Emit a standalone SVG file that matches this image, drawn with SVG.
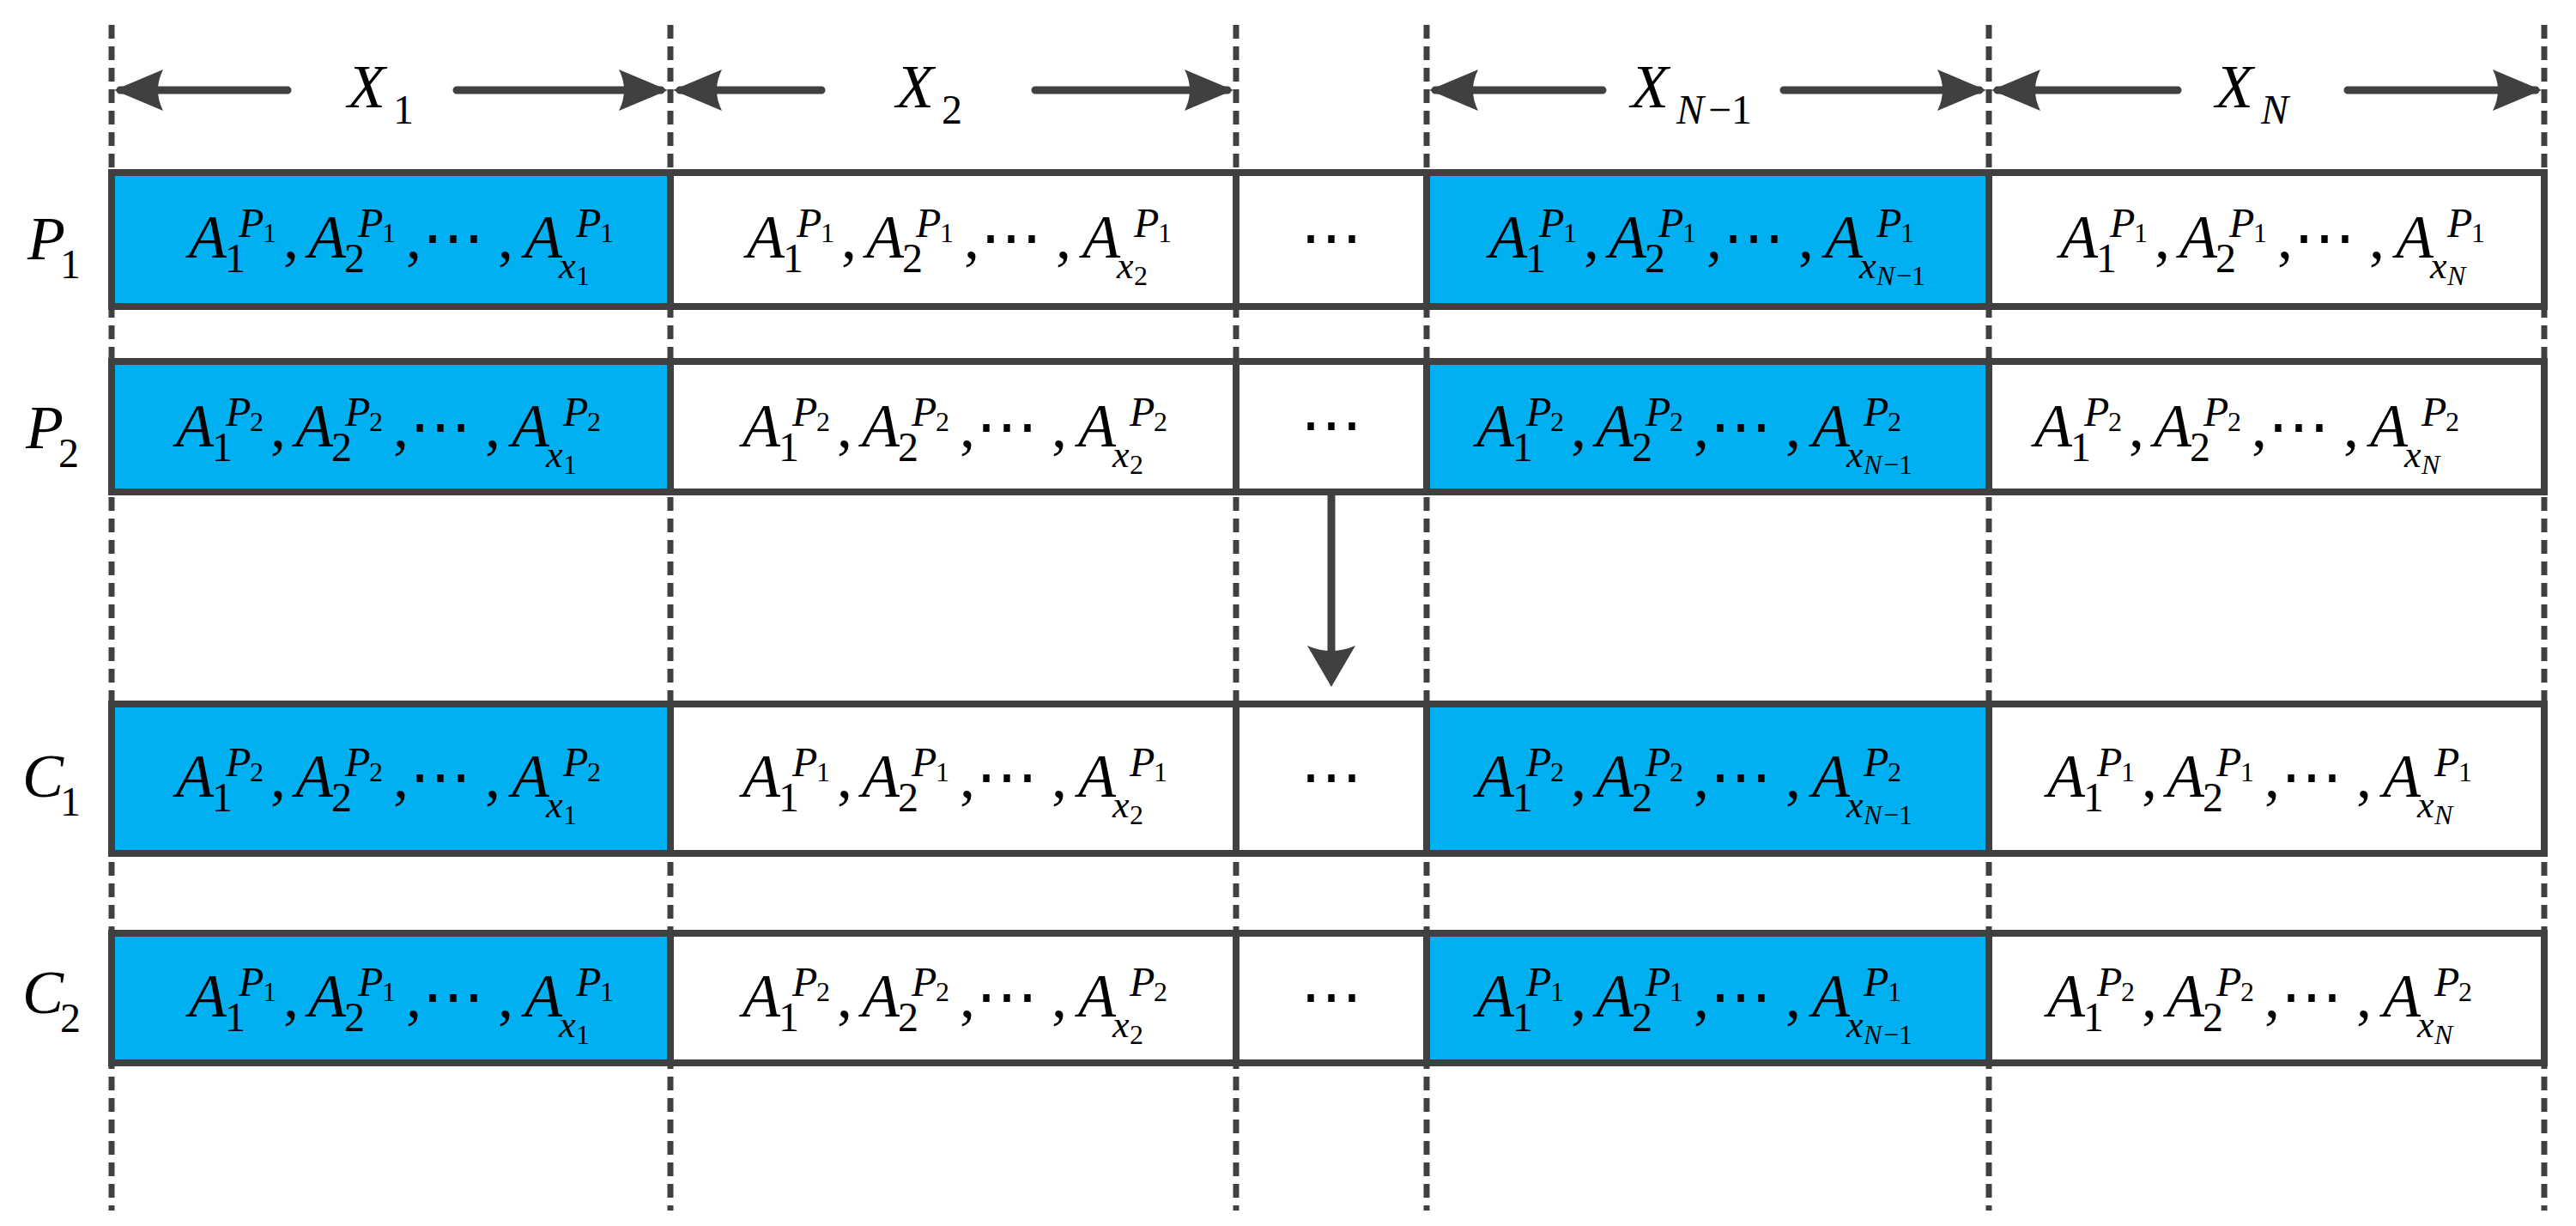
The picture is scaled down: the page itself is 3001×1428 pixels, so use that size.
<svg xmlns="http://www.w3.org/2000/svg" width="3001" height="1428" viewBox="0 0 3001 1428" font-family="'Liberation Serif', 'DejaVu Serif', serif">
<style>
.dash{stroke:#404040;stroke-width:7;stroke-dasharray:16 9;fill:none}
.cell{stroke:#404040;stroke-width:8}
.b{fill:#00B0F0}.w{fill:#fff}
.ln{stroke:#404040;stroke-width:9;fill:none;stroke-linecap:round}
.hd{fill:#404040}
text,tspan{font-family:'Liberation Serif','DejaVu Serif',serif}
text{fill:#000}
.m{font-size:72px}
.i{font-style:italic}
.s{font-size:48px}
.si{font-size:48px;font-style:italic}
.ss{font-size:32px}
.ssi{font-size:32px;font-style:italic}
.sx{font-size:44px;font-style:italic}
</style>
<g id="grid">
<path class="dash" d="M130 29V1410M781 29V1410M1440 29V1410M1662 29V1410M2317 29V1410M2964 29V1410"/>
</g>
<g id="headers">
<path class="ln" d="M140 105H335M532 105H770M792 105H957M1206 105H1430M1672 105H1867M2078 105H2306M2327 105H2537M2735 105H2954"/>
<path class="hd" d="M133 105L190 81Q178 105 190 129Z M778 105L721 81Q733 105 721 129Z M784 105L841 81Q829 105 841 129Z M1437 105L1380 81Q1392 105 1380 129Z M1665 105L1722 81Q1710 105 1722 129Z M2314 105L2257 81Q2269 105 2257 129Z M2320 105L2377 81Q2365 105 2377 129Z M2961 105L2904 81Q2916 105 2904 129Z"/>
<text class="m"><tspan class="i" x="405" y="125">X</tspan><tspan class="s" x="458" y="144">1</tspan></text>
<text class="m"><tspan class="i" x="1044" y="125">X</tspan><tspan class="s" x="1097" y="144">2</tspan></text>
<text class="m"><tspan class="i" x="1900" y="125">X</tspan><tspan class="si" x="1953" y="144">N</tspan><tspan class="s" x="1990" y="144">−1</tspan></text>
<text class="m"><tspan class="i" x="2581" y="125">X</tspan><tspan class="si" x="2634" y="144">N</tspan></text>
</g>
<g id="rows">
<rect class="cell b" x="130" y="201" width="651" height="156"/><rect class="cell w" x="781" y="201" width="659" height="156"/><rect class="cell w" x="1440" y="201" width="222" height="156"/><rect class="cell b" x="1662" y="201" width="655" height="156"/><rect class="cell w" x="2317" y="201" width="647" height="156"/>
<rect class="cell b" x="130" y="421" width="651" height="152"/><rect class="cell w" x="781" y="421" width="659" height="152"/><rect class="cell w" x="1440" y="421" width="222" height="152"/><rect class="cell b" x="1662" y="421" width="655" height="152"/><rect class="cell w" x="2317" y="421" width="647" height="152"/>
<rect class="cell b" x="130" y="820" width="651" height="174"/><rect class="cell w" x="781" y="820" width="659" height="174"/><rect class="cell w" x="1440" y="820" width="222" height="174"/><rect class="cell b" x="1662" y="820" width="655" height="174"/><rect class="cell w" x="2317" y="820" width="647" height="174"/>
<rect class="cell b" x="130" y="1087" width="651" height="151"/><rect class="cell w" x="781" y="1087" width="659" height="151"/><rect class="cell w" x="1440" y="1087" width="222" height="151"/><rect class="cell b" x="1662" y="1087" width="655" height="151"/><rect class="cell w" x="2317" y="1087" width="647" height="151"/>
</g>
<g id="labels">
<text class="m"><tspan class="i" x="32" y="302">P</tspan><tspan class="s" x="70" y="324">1</tspan></text>
<text class="m"><tspan class="i" x="30" y="522">P</tspan><tspan class="s" x="68" y="544">2</tspan></text>
<text class="m"><tspan class="i" x="26" y="928">C</tspan><tspan class="s" x="70" y="950">1</tspan></text>
<text class="m"><tspan class="i" x="26" y="1180">C</tspan><tspan class="s" x="70" y="1202">2</tspan></text>
</g>
<g id="dots">
<text class="m" x="1551" y="300" text-anchor="middle">⋯</text>
<text class="m" x="1551" y="518" text-anchor="middle">⋯</text>
<text class="m" x="1551" y="928" text-anchor="middle">⋯</text>
<text class="m" x="1551" y="1184" text-anchor="middle">⋯</text>
</g>
<g id="connectors">
<path class="ln" d="M1551 574V760" style="stroke-linecap:butt"/>
<path class="hd" d="M1551 800L1523 752Q1551 764 1579 752Z"/>
</g>
<g id="formulas">
<g transform="translate(220,300)"><text class="m"><tspan class="i" x="0" y="0">A</tspan><tspan class="s" x="42" y="17">1</tspan><tspan class="si" x="58" y="-24">P</tspan><tspan class="ss" x="86" y="-18">1</tspan><tspan x="110" y="0">,</tspan><tspan class="i" x="139" y="0">A</tspan><tspan class="s" x="181" y="17">2</tspan><tspan class="si" x="197" y="-24">P</tspan><tspan class="ss" x="225" y="-18">1</tspan><tspan x="253" y="0">,</tspan><tspan x="272" y="0">⋯</tspan><tspan x="360" y="0">,</tspan><tspan class="i" x="391" y="0">A</tspan><tspan class="sx" x="431" y="24">x</tspan><tspan class="ss" x="451" y="32">1</tspan><tspan class="si" x="451" y="-24">P</tspan><tspan class="ss" x="479" y="-18">1</tspan></text></g>
<g transform="translate(870,300)"><text class="m"><tspan class="i" x="0" y="0">A</tspan><tspan class="s" x="42" y="17">1</tspan><tspan class="si" x="58" y="-24">P</tspan><tspan class="ss" x="86" y="-18">1</tspan><tspan x="110" y="0">,</tspan><tspan class="i" x="139" y="0">A</tspan><tspan class="s" x="181" y="17">2</tspan><tspan class="si" x="197" y="-24">P</tspan><tspan class="ss" x="225" y="-18">1</tspan><tspan x="253" y="0">,</tspan><tspan x="272" y="0">⋯</tspan><tspan x="360" y="0">,</tspan><tspan class="i" x="391" y="0">A</tspan><tspan class="sx" x="431" y="24">x</tspan><tspan class="ss" x="451" y="32">2</tspan><tspan class="si" x="451" y="-24">P</tspan><tspan class="ss" x="479" y="-18">1</tspan></text></g>
<g transform="translate(1735,300)"><text class="m"><tspan class="i" x="0" y="0">A</tspan><tspan class="s" x="42" y="17">1</tspan><tspan class="si" x="58" y="-24">P</tspan><tspan class="ss" x="86" y="-18">1</tspan><tspan x="110" y="0">,</tspan><tspan class="i" x="139" y="0">A</tspan><tspan class="s" x="181" y="17">2</tspan><tspan class="si" x="197" y="-24">P</tspan><tspan class="ss" x="225" y="-18">1</tspan><tspan x="253" y="0">,</tspan><tspan x="272" y="0">⋯</tspan><tspan x="360" y="0">,</tspan><tspan class="i" x="391" y="0">A</tspan><tspan class="sx" x="431" y="24">x</tspan><tspan class="ssi" x="451" y="32">N</tspan><tspan class="ss" x="474" y="32">−1</tspan><tspan class="si" x="451" y="-24">P</tspan><tspan class="ss" x="479" y="-18">1</tspan></text></g>
<g transform="translate(2400,300)"><text class="m"><tspan class="i" x="0" y="0">A</tspan><tspan class="s" x="42" y="17">1</tspan><tspan class="si" x="58" y="-24">P</tspan><tspan class="ss" x="86" y="-18">1</tspan><tspan x="110" y="0">,</tspan><tspan class="i" x="139" y="0">A</tspan><tspan class="s" x="181" y="17">2</tspan><tspan class="si" x="197" y="-24">P</tspan><tspan class="ss" x="225" y="-18">1</tspan><tspan x="253" y="0">,</tspan><tspan x="272" y="0">⋯</tspan><tspan x="360" y="0">,</tspan><tspan class="i" x="391" y="0">A</tspan><tspan class="sx" x="431" y="24">x</tspan><tspan class="ssi" x="451" y="32">N</tspan><tspan class="si" x="451" y="-24">P</tspan><tspan class="ss" x="479" y="-18">1</tspan></text></g>
<g transform="translate(205,520)"><text class="m"><tspan class="i" x="0" y="0">A</tspan><tspan class="s" x="42" y="17">1</tspan><tspan class="si" x="58" y="-24">P</tspan><tspan class="ss" x="86" y="-18">2</tspan><tspan x="110" y="0">,</tspan><tspan class="i" x="139" y="0">A</tspan><tspan class="s" x="181" y="17">2</tspan><tspan class="si" x="197" y="-24">P</tspan><tspan class="ss" x="225" y="-18">2</tspan><tspan x="253" y="0">,</tspan><tspan x="272" y="0">⋯</tspan><tspan x="360" y="0">,</tspan><tspan class="i" x="391" y="0">A</tspan><tspan class="sx" x="431" y="24">x</tspan><tspan class="ss" x="451" y="32">1</tspan><tspan class="si" x="451" y="-24">P</tspan><tspan class="ss" x="479" y="-18">2</tspan></text></g>
<g transform="translate(865,520)"><text class="m"><tspan class="i" x="0" y="0">A</tspan><tspan class="s" x="42" y="17">1</tspan><tspan class="si" x="58" y="-24">P</tspan><tspan class="ss" x="86" y="-18">2</tspan><tspan x="110" y="0">,</tspan><tspan class="i" x="139" y="0">A</tspan><tspan class="s" x="181" y="17">2</tspan><tspan class="si" x="197" y="-24">P</tspan><tspan class="ss" x="225" y="-18">2</tspan><tspan x="253" y="0">,</tspan><tspan x="272" y="0">⋯</tspan><tspan x="360" y="0">,</tspan><tspan class="i" x="391" y="0">A</tspan><tspan class="sx" x="431" y="24">x</tspan><tspan class="ss" x="451" y="32">2</tspan><tspan class="si" x="451" y="-24">P</tspan><tspan class="ss" x="479" y="-18">2</tspan></text></g>
<g transform="translate(1720,520)"><text class="m"><tspan class="i" x="0" y="0">A</tspan><tspan class="s" x="42" y="17">1</tspan><tspan class="si" x="58" y="-24">P</tspan><tspan class="ss" x="86" y="-18">2</tspan><tspan x="110" y="0">,</tspan><tspan class="i" x="139" y="0">A</tspan><tspan class="s" x="181" y="17">2</tspan><tspan class="si" x="197" y="-24">P</tspan><tspan class="ss" x="225" y="-18">2</tspan><tspan x="253" y="0">,</tspan><tspan x="272" y="0">⋯</tspan><tspan x="360" y="0">,</tspan><tspan class="i" x="391" y="0">A</tspan><tspan class="sx" x="431" y="24">x</tspan><tspan class="ssi" x="451" y="32">N</tspan><tspan class="ss" x="474" y="32">−1</tspan><tspan class="si" x="451" y="-24">P</tspan><tspan class="ss" x="479" y="-18">2</tspan></text></g>
<g transform="translate(2370,520)"><text class="m"><tspan class="i" x="0" y="0">A</tspan><tspan class="s" x="42" y="17">1</tspan><tspan class="si" x="58" y="-24">P</tspan><tspan class="ss" x="86" y="-18">2</tspan><tspan x="110" y="0">,</tspan><tspan class="i" x="139" y="0">A</tspan><tspan class="s" x="181" y="17">2</tspan><tspan class="si" x="197" y="-24">P</tspan><tspan class="ss" x="225" y="-18">2</tspan><tspan x="253" y="0">,</tspan><tspan x="272" y="0">⋯</tspan><tspan x="360" y="0">,</tspan><tspan class="i" x="391" y="0">A</tspan><tspan class="sx" x="431" y="24">x</tspan><tspan class="ssi" x="451" y="32">N</tspan><tspan class="si" x="451" y="-24">P</tspan><tspan class="ss" x="479" y="-18">2</tspan></text></g>
<g transform="translate(205,928)"><text class="m"><tspan class="i" x="0" y="0">A</tspan><tspan class="s" x="42" y="17">1</tspan><tspan class="si" x="58" y="-24">P</tspan><tspan class="ss" x="86" y="-18">2</tspan><tspan x="110" y="0">,</tspan><tspan class="i" x="139" y="0">A</tspan><tspan class="s" x="181" y="17">2</tspan><tspan class="si" x="197" y="-24">P</tspan><tspan class="ss" x="225" y="-18">2</tspan><tspan x="253" y="0">,</tspan><tspan x="272" y="0">⋯</tspan><tspan x="360" y="0">,</tspan><tspan class="i" x="391" y="0">A</tspan><tspan class="sx" x="431" y="24">x</tspan><tspan class="ss" x="451" y="32">1</tspan><tspan class="si" x="451" y="-24">P</tspan><tspan class="ss" x="479" y="-18">2</tspan></text></g>
<g transform="translate(865,928)"><text class="m"><tspan class="i" x="0" y="0">A</tspan><tspan class="s" x="42" y="17">1</tspan><tspan class="si" x="58" y="-24">P</tspan><tspan class="ss" x="86" y="-18">1</tspan><tspan x="110" y="0">,</tspan><tspan class="i" x="139" y="0">A</tspan><tspan class="s" x="181" y="17">2</tspan><tspan class="si" x="197" y="-24">P</tspan><tspan class="ss" x="225" y="-18">1</tspan><tspan x="253" y="0">,</tspan><tspan x="272" y="0">⋯</tspan><tspan x="360" y="0">,</tspan><tspan class="i" x="391" y="0">A</tspan><tspan class="sx" x="431" y="24">x</tspan><tspan class="ss" x="451" y="32">2</tspan><tspan class="si" x="451" y="-24">P</tspan><tspan class="ss" x="479" y="-18">1</tspan></text></g>
<g transform="translate(1720,928)"><text class="m"><tspan class="i" x="0" y="0">A</tspan><tspan class="s" x="42" y="17">1</tspan><tspan class="si" x="58" y="-24">P</tspan><tspan class="ss" x="86" y="-18">2</tspan><tspan x="110" y="0">,</tspan><tspan class="i" x="139" y="0">A</tspan><tspan class="s" x="181" y="17">2</tspan><tspan class="si" x="197" y="-24">P</tspan><tspan class="ss" x="225" y="-18">2</tspan><tspan x="253" y="0">,</tspan><tspan x="272" y="0">⋯</tspan><tspan x="360" y="0">,</tspan><tspan class="i" x="391" y="0">A</tspan><tspan class="sx" x="431" y="24">x</tspan><tspan class="ssi" x="451" y="32">N</tspan><tspan class="ss" x="474" y="32">−1</tspan><tspan class="si" x="451" y="-24">P</tspan><tspan class="ss" x="479" y="-18">2</tspan></text></g>
<g transform="translate(2385,928)"><text class="m"><tspan class="i" x="0" y="0">A</tspan><tspan class="s" x="42" y="17">1</tspan><tspan class="si" x="58" y="-24">P</tspan><tspan class="ss" x="86" y="-18">1</tspan><tspan x="110" y="0">,</tspan><tspan class="i" x="139" y="0">A</tspan><tspan class="s" x="181" y="17">2</tspan><tspan class="si" x="197" y="-24">P</tspan><tspan class="ss" x="225" y="-18">1</tspan><tspan x="253" y="0">,</tspan><tspan x="272" y="0">⋯</tspan><tspan x="360" y="0">,</tspan><tspan class="i" x="391" y="0">A</tspan><tspan class="sx" x="431" y="24">x</tspan><tspan class="ssi" x="451" y="32">N</tspan><tspan class="si" x="451" y="-24">P</tspan><tspan class="ss" x="479" y="-18">1</tspan></text></g>
<g transform="translate(220,1184)"><text class="m"><tspan class="i" x="0" y="0">A</tspan><tspan class="s" x="42" y="17">1</tspan><tspan class="si" x="58" y="-24">P</tspan><tspan class="ss" x="86" y="-18">1</tspan><tspan x="110" y="0">,</tspan><tspan class="i" x="139" y="0">A</tspan><tspan class="s" x="181" y="17">2</tspan><tspan class="si" x="197" y="-24">P</tspan><tspan class="ss" x="225" y="-18">1</tspan><tspan x="253" y="0">,</tspan><tspan x="272" y="0">⋯</tspan><tspan x="360" y="0">,</tspan><tspan class="i" x="391" y="0">A</tspan><tspan class="sx" x="431" y="24">x</tspan><tspan class="ss" x="451" y="32">1</tspan><tspan class="si" x="451" y="-24">P</tspan><tspan class="ss" x="479" y="-18">1</tspan></text></g>
<g transform="translate(865,1184)"><text class="m"><tspan class="i" x="0" y="0">A</tspan><tspan class="s" x="42" y="17">1</tspan><tspan class="si" x="58" y="-24">P</tspan><tspan class="ss" x="86" y="-18">2</tspan><tspan x="110" y="0">,</tspan><tspan class="i" x="139" y="0">A</tspan><tspan class="s" x="181" y="17">2</tspan><tspan class="si" x="197" y="-24">P</tspan><tspan class="ss" x="225" y="-18">2</tspan><tspan x="253" y="0">,</tspan><tspan x="272" y="0">⋯</tspan><tspan x="360" y="0">,</tspan><tspan class="i" x="391" y="0">A</tspan><tspan class="sx" x="431" y="24">x</tspan><tspan class="ss" x="451" y="32">2</tspan><tspan class="si" x="451" y="-24">P</tspan><tspan class="ss" x="479" y="-18">2</tspan></text></g>
<g transform="translate(1720,1184)"><text class="m"><tspan class="i" x="0" y="0">A</tspan><tspan class="s" x="42" y="17">1</tspan><tspan class="si" x="58" y="-24">P</tspan><tspan class="ss" x="86" y="-18">1</tspan><tspan x="110" y="0">,</tspan><tspan class="i" x="139" y="0">A</tspan><tspan class="s" x="181" y="17">2</tspan><tspan class="si" x="197" y="-24">P</tspan><tspan class="ss" x="225" y="-18">1</tspan><tspan x="253" y="0">,</tspan><tspan x="272" y="0">⋯</tspan><tspan x="360" y="0">,</tspan><tspan class="i" x="391" y="0">A</tspan><tspan class="sx" x="431" y="24">x</tspan><tspan class="ssi" x="451" y="32">N</tspan><tspan class="ss" x="474" y="32">−1</tspan><tspan class="si" x="451" y="-24">P</tspan><tspan class="ss" x="479" y="-18">1</tspan></text></g>
<g transform="translate(2385,1184)"><text class="m"><tspan class="i" x="0" y="0">A</tspan><tspan class="s" x="42" y="17">1</tspan><tspan class="si" x="58" y="-24">P</tspan><tspan class="ss" x="86" y="-18">2</tspan><tspan x="110" y="0">,</tspan><tspan class="i" x="139" y="0">A</tspan><tspan class="s" x="181" y="17">2</tspan><tspan class="si" x="197" y="-24">P</tspan><tspan class="ss" x="225" y="-18">2</tspan><tspan x="253" y="0">,</tspan><tspan x="272" y="0">⋯</tspan><tspan x="360" y="0">,</tspan><tspan class="i" x="391" y="0">A</tspan><tspan class="sx" x="431" y="24">x</tspan><tspan class="ssi" x="451" y="32">N</tspan><tspan class="si" x="451" y="-24">P</tspan><tspan class="ss" x="479" y="-18">2</tspan></text></g>
</g>
</svg>
